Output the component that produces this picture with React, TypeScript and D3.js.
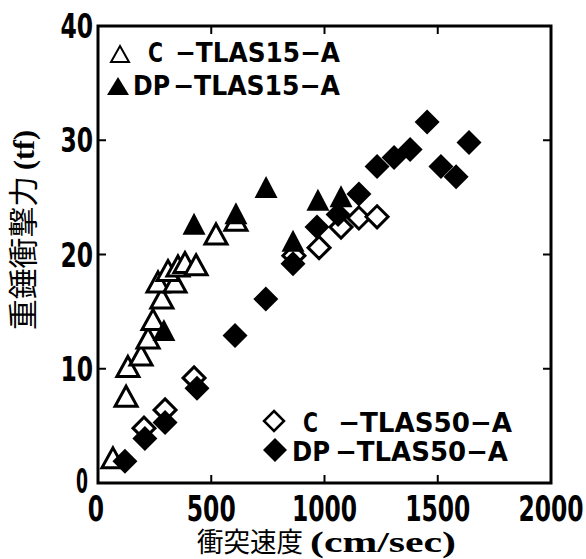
import * as d3 from "d3";

// open triangles: C-TLAS15-A
const c15Speed = [66, 124, 132, 190, 221, 243, 282, 265, 340, 309, 353, 384, 433, 521, 609];
const c15Force = [2.2, 7.6, 10.2, 11.2, 12.7, 14.3, 16.2, 17.6, 17.6, 18.6, 19.0, 19.3, 19.1, 21.8, 23.0];
// filled triangles: DP-TLAS15-A
const dp15Speed = [291, 424, 609, 742, 861, 971, 1073];
const dp15Force = [13.4, 22.7, 23.6, 25.9, 21.2, 24.8, 25.1];
// open diamonds: C-TLAS50-A
const c50Speed = [203, 296, 424, 865, 976, 1073, 1152, 1232];
const c50Force = [4.8, 6.4, 9.2, 19.9, 20.6, 22.4, 23.2, 23.3];
// filled diamonds: DP-TLAS50-A
const dp50Speed = [119, 207, 296, 437, 605, 741, 861, 967, 1060, 1152, 1232, 1307, 1378, 1453, 1514, 1581, 1638];
const dp50Force = [1.9, 3.9, 5.3, 8.3, 12.9, 16.1, 19.2, 22.4, 23.5, 25.3, 27.7, 28.5, 29.2, 31.6, 27.7, 26.8, 29.8];

const xTicks = [0, 500, 1000, 1500, 2000];
const yTicks = [0, 10, 20, 30, 40];
const xTitle = "衝突速度";
const xUnit = "(cm/sec)";
const yTitle = "重錘衝撃力";
const yUnit = "(tf)";

const W = 586;
const H = 559;
const m = { left: 98, right: 551, top: 26, bottom: 483 };

const narrow = "'DejaVu Sans Condensed', 'DejaVu Sans', sans-serif";
const cjk = "'Noto Sans CJK JP', sans-serif";
const serif = "'Liberation Serif', serif";
const digitW = 16.3;

function tri(cx: number, cy: number, w = 22, h = 20) {
  return `M${cx},${cy - h / 2}L${cx + w / 2},${cy + h / 2}L${cx - w / 2},${cy + h / 2}Z`;
}
function dia(cx: number, cy: number, r = 12) {
  return `M${cx},${cy - r}L${cx + r},${cy}L${cx},${cy + r}L${cx - r},${cy}Z`;
}

export default function App() {
  const x = d3.scaleLinear().domain([0, 2000]).range([m.left, m.right]);
  const y = d3.scaleLinear().domain([0, 40]).range([m.bottom, m.top]);

  const pts = (xs: number[], ys: number[]) => xs.map((v, i) => [x(v), y(ys[i])]);

  return (
    <svg width={W} height={H} style={{ position: "absolute", left: 0, top: 0, background: "#fff" }}>
      {/* ticks, inward on all sides */}
      {xTicks.slice(1, -1).map((t) => (
        <g key={"xt" + t} stroke="#000" strokeWidth={2}>
          <line x1={x(t)} x2={x(t)} y1={m.bottom} y2={m.bottom - 8} />
          <line x1={x(t)} x2={x(t)} y1={m.top} y2={m.top + 8} />
        </g>
      ))}
      {yTicks.slice(1, -1).map((t) => (
        <g key={"yt" + t} stroke="#000" strokeWidth={2}>
          <line x1={m.left} x2={m.left + 8} y1={y(t)} y2={y(t)} />
          <line x1={m.right} x2={m.right - 8} y1={y(t)} y2={y(t)} />
        </g>
      ))}
      <rect x={m.left} y={m.top} width={m.right - m.left} height={m.bottom - m.top}
        fill="none" stroke="#000" strokeWidth={3} />

      {/* tick labels */}
      {xTicks.map((t) => {
        const s = String(t);
        const len = s.length * digitW;
        const cx = x(t) - (t === 0 ? 2 : 0);
        return (
          <text key={"xl" + t} x={cx - len / 2} y={521} textLength={len} lengthAdjust="spacingAndGlyphs"
            fontFamily={narrow} fontWeight="bold" fontSize={35}>{s}</text>
        );
      })}
      {yTicks.map((t) => {
        const s = String(t);
        const len = t === 0 ? 12 : s.length * digitW;
        const right = t === 0 ? 88 : 93;
        return (
          <text key={"yl" + t} x={right - len} y={t === 0 ? y(t) + 10 : y(t) + 12} textLength={len}
            lengthAdjust="spacingAndGlyphs" fontFamily={narrow} fontWeight="bold" fontSize={33}>{s}</text>
        );
      })}

      {/* axis titles */}
      <text x={197} y={552} fontSize={27} fontFamily={cjk} textLength={106} lengthAdjust="spacingAndGlyphs">{xTitle}</text>
      <text x={310} y={552} fontSize={29} fontFamily={serif} fontWeight="bold" textLength={146}
        lengthAdjust="spacingAndGlyphs">{xUnit}</text>
      <g transform="translate(34,0) rotate(-90)">
        <text x={-330} y={0} fontSize={30} fontFamily={cjk} textLength={154} lengthAdjust="spacingAndGlyphs">{yTitle}</text>
        <text x={-170} y={0} fontSize={29} fontFamily={serif} fontWeight="bold" textLength={40}
          lengthAdjust="spacingAndGlyphs">{yUnit}</text>
      </g>

      {/* data */}
      {pts(c15Speed, c15Force).map(([px, py], i) => (
        <path key={"c15" + i} d={tri(px, py)} fill="#fff" stroke="#000" strokeWidth={3} strokeLinejoin="miter" />
      ))}
      {pts(c50Speed, c50Force).map(([px, py], i) => (
        <path key={"c50" + i} d={dia(px, py, 11)} fill="#fff" stroke="#000" strokeWidth={3} />
      ))}
      {pts(dp15Speed, dp15Force).map(([px, py], i) => (
        <path key={"dp15" + i} d={tri(px, py, 23, 22)} fill="#000" />
      ))}
      {pts(dp50Speed, dp50Force).map(([px, py], i) => (
        <path key={"dp50" + i} d={dia(px, py, 12.5)} fill="#000" />
      ))}

      {/* legends */}
      <g fontFamily={narrow} fontWeight="bold" fontSize={27}>
        <path d={tri(120, 54, 18, 16)} fill="#fff" stroke="#000" strokeWidth={2} />
        <text x={148} y={62} textLength={15} lengthAdjust="spacingAndGlyphs">C</text>
        <text x={175} y={62} textLength={165} lengthAdjust="spacingAndGlyphs">−TLAS15−A</text>
        <path d={tri(118, 86, 22, 18)} fill="#000" />
        <text x={133} y={95} textLength={37} lengthAdjust="spacingAndGlyphs">DP</text>
        <text x={173} y={95} textLength={167} lengthAdjust="spacingAndGlyphs">−TLAS15−A</text>

        <path d={dia(274, 421, 10)} fill="#fff" stroke="#000" strokeWidth={2.5} />
        <text x={303} y={432} textLength={15} lengthAdjust="spacingAndGlyphs">C</text>
        <text x={338} y={432} textLength={174} lengthAdjust="spacingAndGlyphs">−TLAS50−A</text>
        <path d={dia(275, 450, 12)} fill="#000" />
        <text x={292} y={461} textLength={38} lengthAdjust="spacingAndGlyphs">DP</text>
        <text x={335} y={461} textLength={173} lengthAdjust="spacingAndGlyphs">−TLAS50−A</text>
      </g>
    </svg>
  );
}
